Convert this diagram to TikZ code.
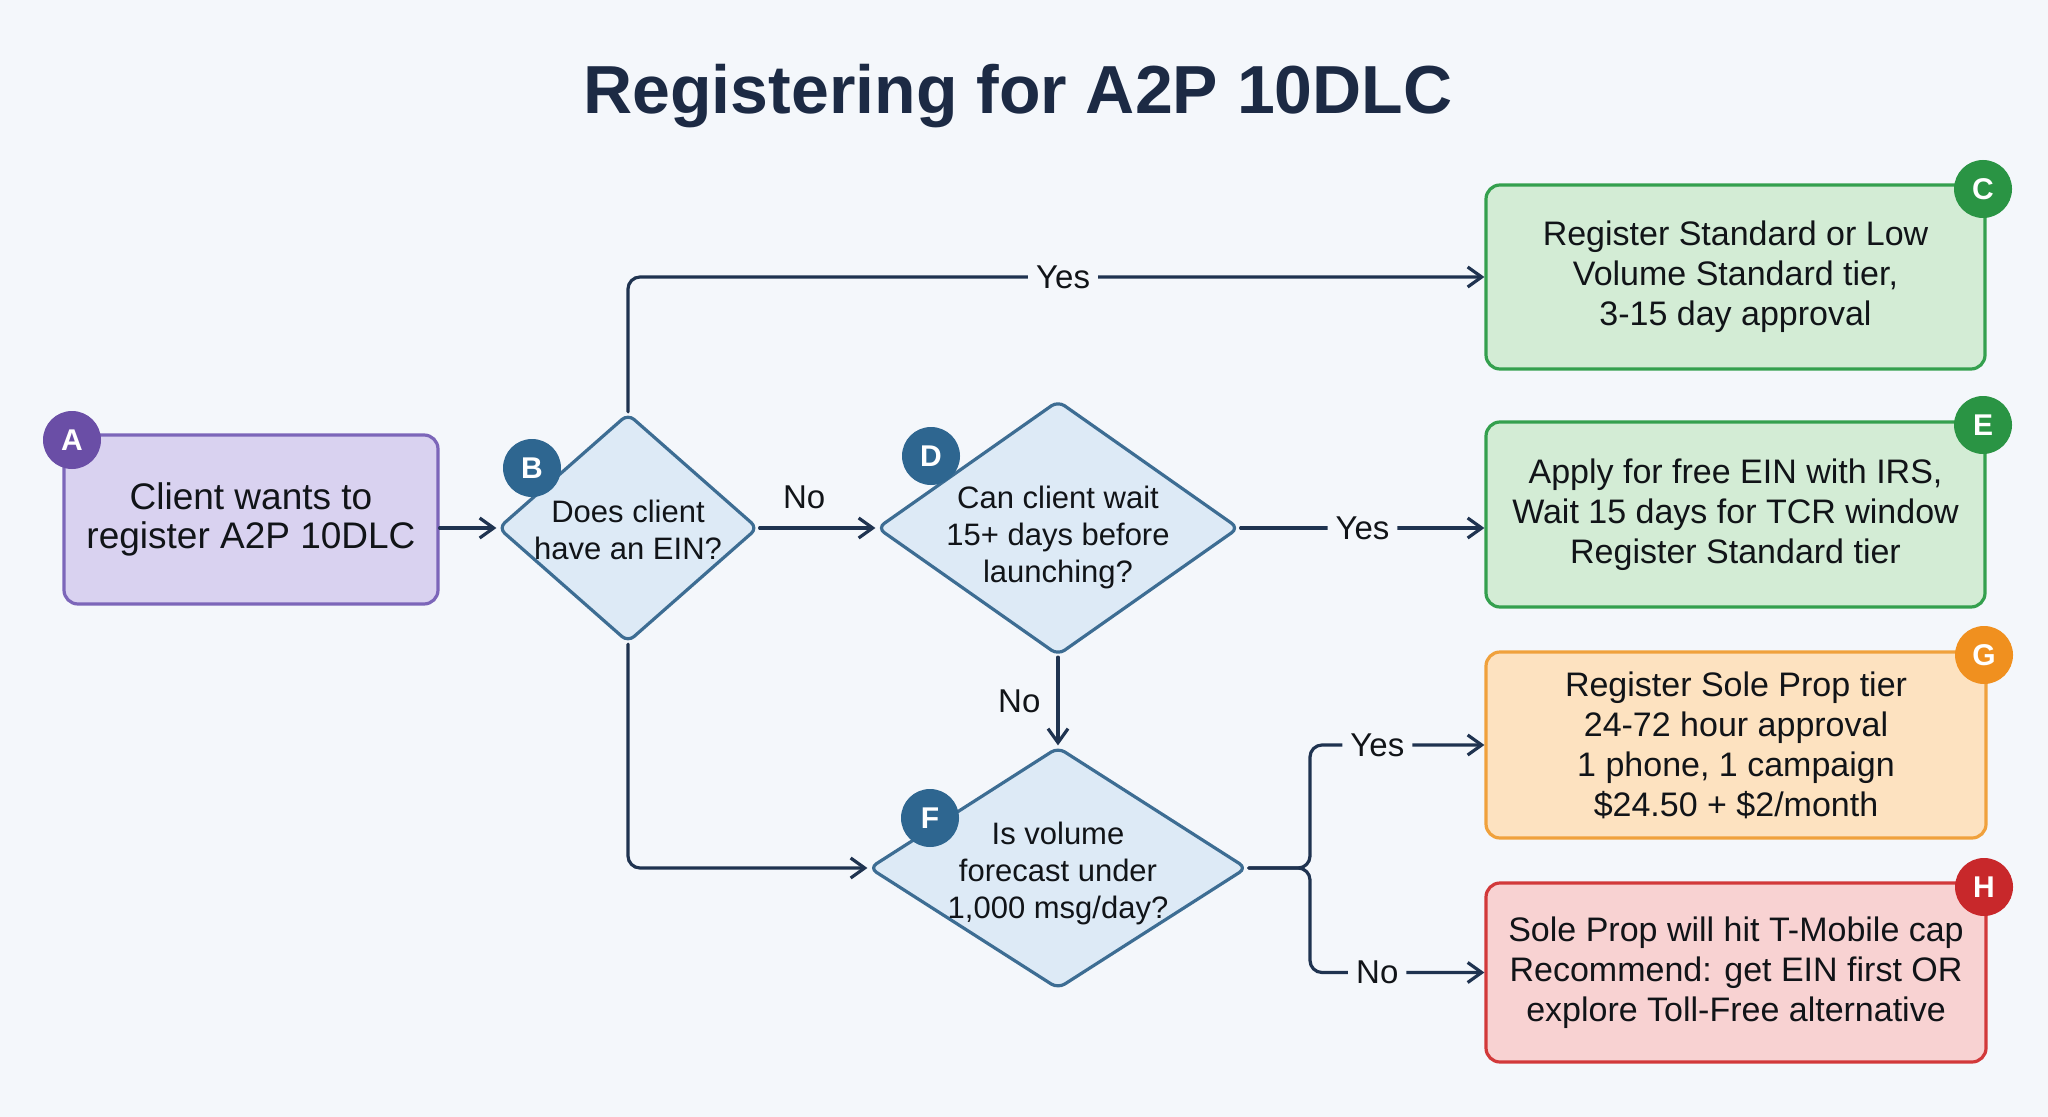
\documentclass[tikz,border=0pt]{standalone}
\usepackage{fontspec}
\setmainfont{Liberation Sans}
\usetikzlibrary{shapes.geometric,arrows.meta}
\definecolor{bg}{HTML}{F4F7FB}
\definecolor{ink}{HTML}{111418}
\definecolor{titlec}{HTML}{1C2A44}
\definecolor{navy}{HTML}{1F3350}
\definecolor{purpleF}{HTML}{D9D2F0}
\definecolor{purpleB}{HTML}{7C66B9}
\definecolor{purpleC}{HTML}{6A4EA6}
\definecolor{blueF}{HTML}{DDEAF6}
\definecolor{blueB}{HTML}{3D6D93}
\definecolor{blueC}{HTML}{2E6690}
\definecolor{greenF}{HTML}{D3ECD5}
\definecolor{greenB}{HTML}{34A04E}
\definecolor{greenC}{HTML}{2A9444}
\definecolor{orangeF}{HTML}{FDE2C0}
\definecolor{orangeB}{HTML}{F0A13C}
\definecolor{orangeC}{HTML}{F0901F}
\definecolor{redF}{HTML}{F8D2D2}
\definecolor{redB}{HTML}{D2393A}
\definecolor{redC}{HTML}{C8282B}
\begin{document}
\begin{tikzpicture}[x=0.5pt, y=-0.5pt, line join=round, line cap=round,
	>={Straight Barb[length=7pt,width=10pt]},
	box/.style={rectangle, rounded corners=7pt, line width=1.6pt, align=center, text=ink,
		inner sep=0pt, font=\fontsize{17}{20}\selectfont},
	decision/.style={diamond, rounded corners=4pt, line width=1.6pt, draw=blueB, fill=blueF, inner sep=0pt},
	qtext/.style={align=center, text=ink, font=\fontsize{15.5}{18.5}\selectfont},
	badge/.style={circle, minimum size=29pt, inner sep=0pt, text=white, font=\fontsize{15}{15}\bfseries\selectfont},
	arr/.style={->, line width=1.6pt, draw=navy, rounded corners=6pt},
	lbl/.style={fill=bg, inner sep=4pt, text=ink, font=\fontsize{16.5}{18}\selectfont}]
	\fill[bg] (0,0) rectangle (2048,1117);
	\useasboundingbox (0,0) rectangle (2048,1117);
	\node[anchor=base, text=titlec, font=\fontsize{34}{34}\bfseries\selectfont] (title) at (1018,114) {Registering for A2P 10DLC};
	
	\node[box, draw=purpleB, fill=purpleF, minimum width=187pt, minimum height=84.5pt,
		font=\fontsize{18.5}{19.5}\selectfont] (A) at (251,519.5) {Client wants to\\register A2P 10DLC};
	\node[decision, minimum width=130pt, minimum height=114.5pt] (B) at (628,528) {};
	\node[qtext] (Bt) at (628,530) {Does client\\have an EIN?};
	\node[decision, minimum width=181pt, minimum height=127.5pt] (D) at (1058,528) {};
	\node[qtext] (Dt) at (1058,537) {Can client wait\\15+ days before\\launching?};
	\node[decision, minimum width=189pt, minimum height=121pt] (F) at (1058,868) {};
	\node[qtext] (Ft) at (1058,873) {Is volume\\forecast under\\1,000 msg/day?};
	
	\node[box, draw=greenB, fill=greenF, minimum width=249.5pt, minimum height=92pt] (C) at (1735.5,277)
		{Register Standard or Low\\Volume Standard tier,\\3-15 day approval};
	\node[box, draw=greenB, fill=greenF, minimum width=249.5pt, minimum height=92.5pt] (E) at (1735.5,514.5)
		{Apply for free EIN with IRS,\\Wait 15 days for TCR window\\Register Standard tier};
	\node[box, draw=orangeB, fill=orangeF, minimum width=250pt, minimum height=93pt] (G) at (1736,745)
		{Register Sole Prop tier\\24-72 hour approval\\1 phone, 1 campaign\\\$24.50 + \$2/month};
	\node[box, draw=redB, fill=redF, minimum width=250pt, minimum height=89.5pt] (H) at (1736,972.5)
		{Sole Prop will hit T-Mobile cap\\Recommend: get EIN first OR\\explore Toll-Free alternative};
	\coordinate (fork) at (1310,868);
	
	\draw[arr] (A.east |- B.west) -- (B.west);
	\draw[arr] (B.north) |- node[lbl, pos=0.754] {Yes} (C.west);
	\draw[arr] (B.east) -- node[lbl, above=5pt, pos=0.385, fill=none] {No} (D.west);
	\draw[arr] (B.south) |- (F.west);
	\draw[arr] (D.east) -- node[lbl] {Yes} (D.east -| E.west);
	\draw[arr] (D.south) -- node[lbl, left, xshift=-4pt, fill=none] {No} (F.north);
	\draw[arr] (F.east) -- (fork) |- node[lbl, pos=0.693] {Yes} (G.west);
	\draw[arr] (F.east) -- (fork) |- node[lbl, pos=0.693] {No} (H.west);
	
	\foreach \n/\x/\y/\c in {A/72/440/purpleC, B/532/468/blueC, C/1983/189/greenC, D/931/456/blueC,
		E/1983/425/greenC, F/930/818/blueC, G/1984/655/orangeC, H/1984/887/redC}
		\node[badge, fill=\c] (badge\n) at (\x,\y) {\n};
\end{tikzpicture}
\end{document}
